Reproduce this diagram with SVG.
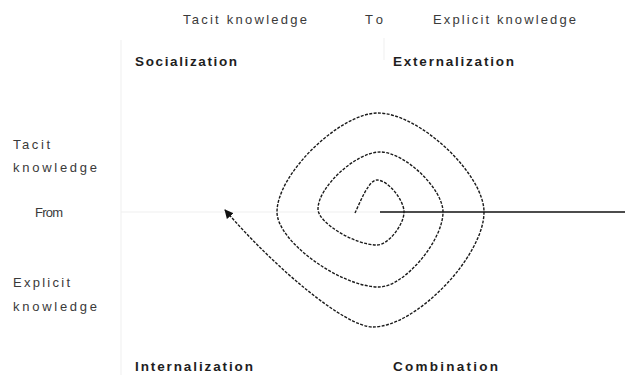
<svg xmlns="http://www.w3.org/2000/svg" width="625" height="380" viewBox="0 0 625 380">
<defs>
<style>
.lbl{font-family:"Liberation Sans",Arial,sans-serif;font-size:13px;fill:#3a3a3a}
.q{font-family:"Liberation Sans",Arial,sans-serif;font-size:13.5px;font-weight:bold;fill:#1e1e1e}
.faint{stroke:#efefef;stroke-width:1;fill:none}
.spiral{fill:none;stroke:#1a1a1a;stroke-width:1.4;stroke-dasharray:3 1.4}
</style>
<marker id="ah" viewBox="0 0 10 10" refX="9" refY="5" markerWidth="9" markerHeight="9" markerUnits="userSpaceOnUse" orient="auto">
<path d="M0,0 L10,5 L0,10 z" fill="#111"/>
</marker>
</defs>
<rect width="625" height="380" fill="#fff"/>
<g id="axes">
<line class="faint" x1="121" y1="40" x2="121" y2="375"/>
<line class="faint" x1="121" y1="212" x2="380" y2="212"/>
<line class="faint" x1="384" y1="38" x2="384" y2="60"/>
</g>
<g id="header">
<text class="lbl" x="183" y="24" textLength="124" lengthAdjust="spacing">Tacit knowledge</text>
<text class="lbl" x="365" y="24" textLength="18" lengthAdjust="spacing">To</text>
<text class="lbl" x="433" y="24" textLength="143" lengthAdjust="spacing">Explicit knowledge</text>
</g>
<g id="rows">
<text class="lbl" x="13" y="149" textLength="37" lengthAdjust="spacing">Tacit</text>
<text class="lbl" x="13" y="172" textLength="84" lengthAdjust="spacing">knowledge</text>
<text class="lbl" x="35" y="217" textLength="28" lengthAdjust="spacing">From</text>
<text class="lbl" x="13" y="287" textLength="57" lengthAdjust="spacing">Explicit</text>
<text class="lbl" x="13" y="311" textLength="84" lengthAdjust="spacing">knowledge</text>
</g>
<g id="socialization"><text class="q" x="135" y="66" textLength="102" lengthAdjust="spacing">Socialization</text></g>
<g id="externalization"><text class="q" x="393" y="66" textLength="121" lengthAdjust="spacing">Externalization</text></g>
<g id="internalization"><text class="q" x="135" y="371" textLength="118" lengthAdjust="spacing">Internalization</text></g>
<g id="combination"><text class="q" x="393" y="371" textLength="105" lengthAdjust="spacing">Combination</text></g>
<g id="connectors">
<line x1="380" y1="212" x2="625" y2="212" stroke="#111" stroke-width="1.6"/>
<path class="spiral" marker-end="url(#ah)" d="M355,213 C361,200 369,180 377,180 C388,180 404,200 404,212 C404,225 388,245 377,245 C355,245 318,223 318,209 C318,187 356,152 380,152 C405,152 443,189 443,212 C443,241 404,287 379,287 C340,287 277,241 277,212 C277,174 340,113 378,113 C419,113 484,174 484,212 C484,256 416,327 373,327 C345,327 275,268 225,210"/>
</g>
</svg>
